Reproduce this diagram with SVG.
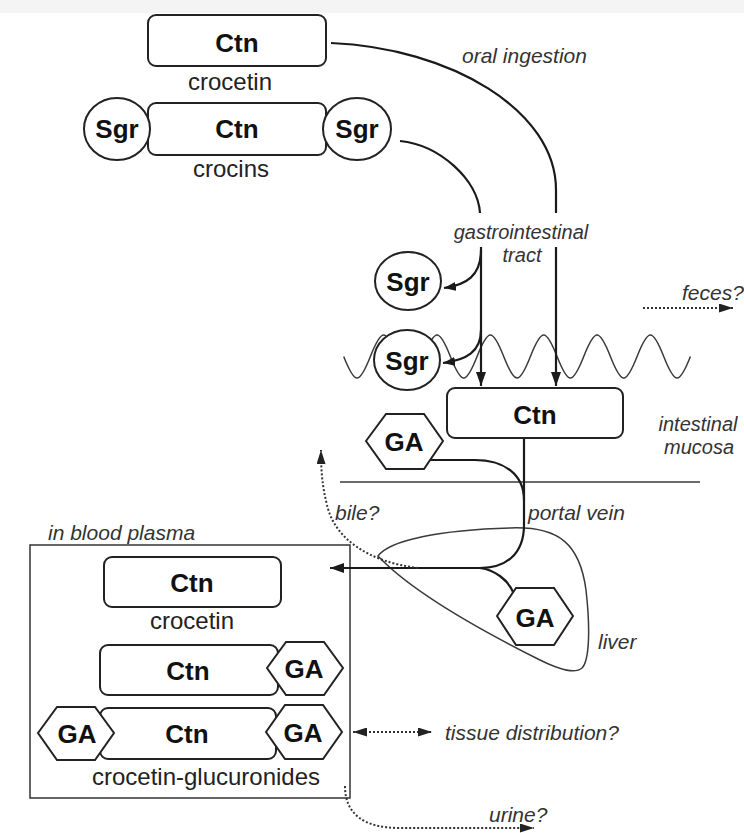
<svg xmlns="http://www.w3.org/2000/svg" width="744" height="833" viewBox="0 0 744 833">
<style>
.box{fill:#fff;stroke:#222;stroke-width:2}
.thin{fill:none;stroke:#3a3a3a;stroke-width:1.5}
.conn{fill:none;stroke:#1a1a1a;stroke-width:2.2}
.dot{fill:none;stroke:#333;stroke-width:2;stroke-dasharray:2 2}
.b{font-family:"Liberation Sans",Arial,sans-serif;font-weight:bold;font-size:26px;fill:#111;text-anchor:middle}
.r{font-family:"Liberation Sans",Arial,sans-serif;font-size:24px;fill:#222;text-anchor:middle}
.i{font-family:"Liberation Sans",Arial,sans-serif;font-style:italic;font-size:21px;fill:#333}
.i2{font-family:"Liberation Sans",Arial,sans-serif;font-style:italic;font-size:20px;fill:#333;text-anchor:middle}
</style>
<defs>
<marker id="ah" markerUnits="userSpaceOnUse" markerWidth="14" markerHeight="10" refX="14" refY="5" orient="auto-start-reverse" viewBox="0 0 14 10">
<path d="M0,0 L14,5 L0,10 Z" fill="#1a1a1a"/>
</marker>
<marker id="ahs" markerUnits="userSpaceOnUse" markerWidth="12" markerHeight="9" refX="12" refY="4.5" orient="auto-start-reverse" viewBox="0 0 12 9">
<path d="M0,0 L12,4.5 L0,9 Z" fill="#1a1a1a"/>
</marker>
<marker id="ahd" markerUnits="userSpaceOnUse" markerWidth="14" markerHeight="9" refX="14" refY="4.5" orient="auto-start-reverse" viewBox="0 0 14 9">
<path d="M0,0 L14,4.5 L0,9 Z" fill="#222"/>
</marker>
</defs>
<rect x="0" y="0" width="744" height="833" fill="#fff"/>
<rect x="0" y="0" width="744" height="13" fill="#f4f4f4"/>

<g id="background">
<path class="thin" d="M343.7 356.5 c11.3 28.7 15.4 28.7 26.67 0 s15.4 -28.7 26.67 0 s15.4 28.7 26.67 0 s15.4 -28.7 26.67 0 s15.4 28.7 26.67 0 s15.4 -28.7 26.67 0 s15.4 28.7 26.67 0 s15.4 -28.7 26.67 0 s15.4 28.7 26.67 0 s15.4 -28.7 26.67 0 s15.4 28.7 26.67 0 s15.4 -28.7 26.67 0 s15.4 28.7 26.67 0"/>
<line class="thin" x1="340" y1="482" x2="700" y2="482"/>
<path class="thin" d="M378 556 C390 540 440 530 510 528 C560 526 580 545 586 590 C590 625 590 660 582 668 C575 674 560 670 540 660 C480 630 410 590 378 556 Z"/>
<rect x="30" y="545" width="320" height="253" fill="none" stroke="#333" stroke-width="1.5"/>
</g>

<g id="connectors">
<path class="conn" d="M331 43 C450 48 556 110 556 190 L556 213"/>
<path class="conn" d="M556 247 L556 386" marker-end="url(#ah)"/>
<path class="conn" d="M400 141 C440 145 478 180 480 213"/>
<path class="conn" d="M481 247 L481 386" marker-end="url(#ah)"/>
<path class="conn" d="M481 250 C481 276 466 285 444 288" marker-end="url(#ahs)"/>
<path class="conn" d="M481 330 C481 352 466 360 443 363" marker-end="url(#ahs)"/>
<path class="conn" d="M430 460 L475 460 C505 460 524 475 524 500"/>
<path class="conn" d="M524 438 L524 525 C524 555 505 568 480 568 L330 568" marker-end="url(#ah)"/>
<path class="conn" d="M480 568 C495 570 508 580 513 592"/>
<path class="dot" d="M418 568 C370 562 335 540 327 505 C322 485 321 470 321 450" marker-end="url(#ahd)"/>
<path class="dot" d="M643 308 L733 308" marker-end="url(#ahd)"/>
<path class="dot" d="M353 732 L432 732" marker-start="url(#ahd)" marker-end="url(#ahd)"/>
<path class="dot" d="M345 786 C345 815 365 828 400 828 L534 828" marker-end="url(#ahd)"/>
</g>

<g id="crocetin-top">
<rect class="box" x="148" y="15" width="178" height="51" rx="8"/>
<text class="b" x="237" y="52">Ctn</text>
<text class="r" x="230" y="90">crocetin</text>
</g>

<g id="crocins">
<rect class="box" x="148" y="103" width="178" height="52" rx="8"/>
<text class="b" x="237" y="138">Ctn</text>
<ellipse class="box" cx="117" cy="129" rx="33" ry="31"/>
<text class="b" x="117" y="138">Sgr</text>
<ellipse class="box" cx="357" cy="129" rx="34" ry="31"/>
<text class="b" x="357" y="138">Sgr</text>
<text class="r" x="231" y="177">crocins</text>
</g>

<g id="sgr-upper">
<ellipse class="box" cx="408" cy="281" rx="33" ry="29"/>
<text class="b" x="408" y="291">Sgr</text>
</g>

<g id="sgr-lower">
<ellipse class="box" cx="407" cy="360" rx="33" ry="30"/>
<text class="b" x="407" y="370">Sgr</text>
</g>

<g id="ctn-mucosa">
<rect class="box" x="447" y="388" width="176" height="50" rx="8"/>
<text class="b" x="535" y="424">Ctn</text>
</g>

<g id="ga-mucosa">
<polygon class="box" points="366,441 386,414 424,414 443,441 424,469 386,469"/>
<text class="b" x="404" y="451">GA</text>
</g>

<g id="ga-liver">
<polygon class="box" points="497,616 516,588 554,588 573,616 554,645 516,645"/>
<text class="b" x="535" y="627">GA</text>
</g>

<g id="plasma-crocetin">
<rect class="box" x="104" y="557" width="177" height="50" rx="8"/>
<text class="b" x="192" y="592">Ctn</text>
<text class="r" x="192" y="629">crocetin</text>
</g>

<g id="plasma-mono">
<rect class="box" x="100" y="645" width="178" height="50" rx="8"/>
<text class="b" x="188" y="680">Ctn</text>
<polygon class="box" points="267,668 286,642 324,642 343,668 324,695 286,695"/>
<text class="b" x="304" y="678">GA</text>
</g>

<g id="plasma-di">
<rect class="box" x="100" y="708" width="176" height="51" rx="8"/>
<text class="b" x="187" y="743">Ctn</text>
<polygon class="box" points="38,733 57,707 95,707 114,733 95,760 57,760"/>
<text class="b" x="77" y="743">GA</text>
<polygon class="box" points="266,732 285,705 323,705 342,732 323,759 285,759"/>
<text class="b" x="303" y="742">GA</text>
<text class="r" x="206" y="785">crocetin-glucuronides</text>
</g>

<g id="labels">
<text class="i" x="462" y="63">oral ingestion</text>
<text class="i2" x="521" y="239">gastrointestinal</text>
<text class="i2" x="522" y="262">tract</text>
<text class="i" x="682" y="300">feces?</text>
<text class="i2" x="698" y="431">intestinal</text>
<text class="i2" x="699" y="454">mucosa</text>
<text class="i" x="528" y="520">portal vein</text>
<text class="i" x="335" y="520">bile?</text>
<text class="i" x="48" y="540">in blood plasma</text>
<text class="i" x="598" y="649">liver</text>
<text class="i" x="445" y="740">tissue distribution?</text>
<text class="i" x="489" y="822">urine?</text>
</g>
</svg>
